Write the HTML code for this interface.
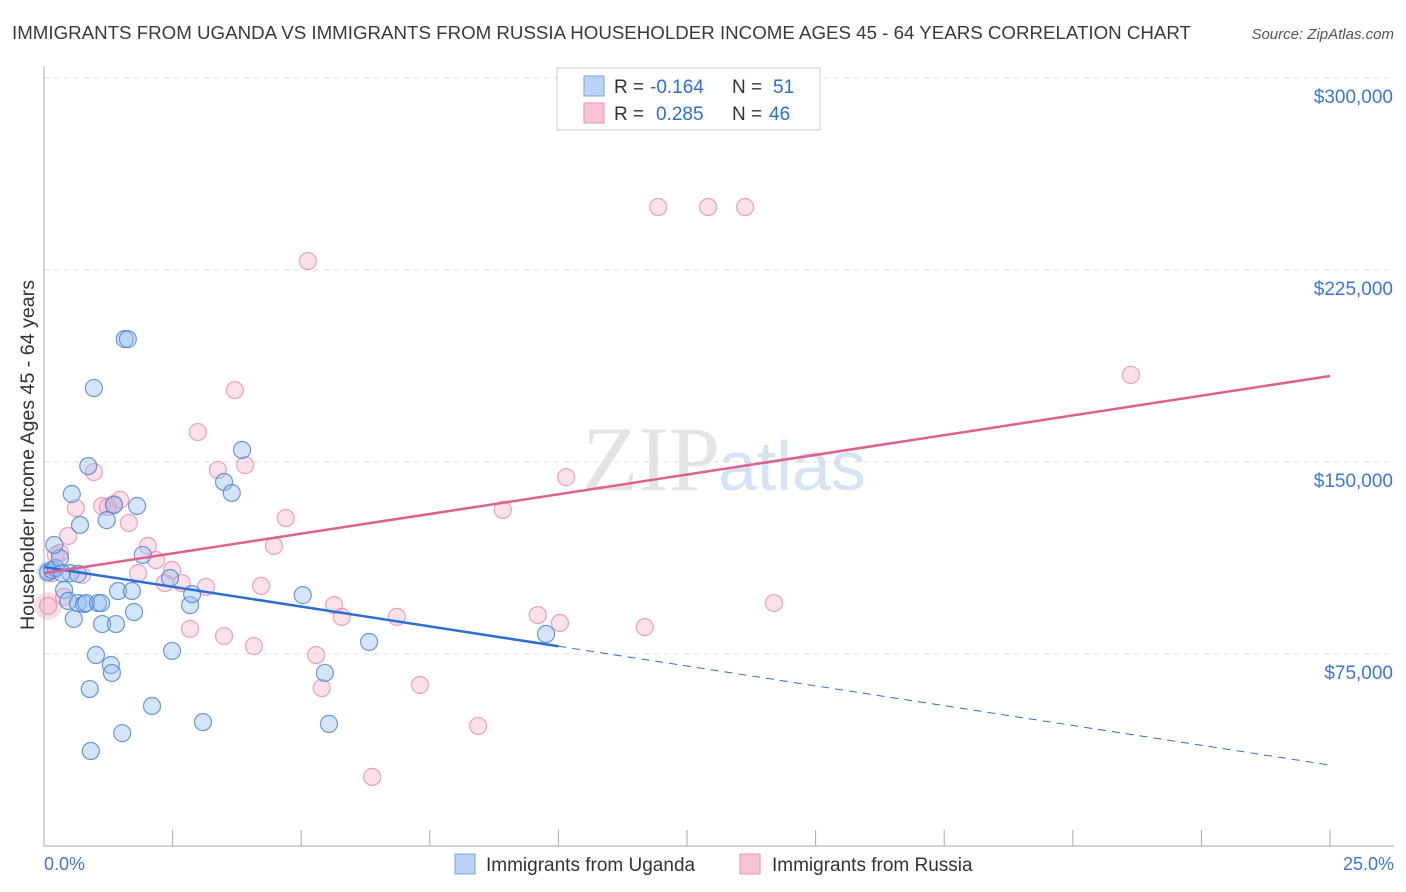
<!DOCTYPE html>
<html><head><meta charset="utf-8"><style>
body{margin:0;background:#fff;font-family:"Liberation Sans",sans-serif;}
#c{position:relative;width:1406px;height:892px;overflow:hidden}
</style></head><body><div id="c">
<svg id="s" width="1406" height="892" xmlns="http://www.w3.org/2000/svg">
<text x="12" y="39" font-size="18" fill="#3a3a3a" textLength="1179" lengthAdjust="spacingAndGlyphs">IMMIGRANTS FROM UGANDA VS IMMIGRANTS FROM RUSSIA HOUSEHOLDER INCOME AGES 45 - 64 YEARS CORRELATION CHART</text>
<text x="1394" y="39" font-size="15" font-style="italic" fill="#555" text-anchor="end">Source: ZipAtlas.com</text>
<text x="720" y="490" font-size="92" fill="#e4e4e4" text-anchor="end" font-family="Liberation Serif">ZIP</text>
<text x="718" y="490" font-size="70" fill="#d6e3f3">atlas</text>
<text transform="translate(34,455) rotate(-90)" font-size="19" fill="#333" text-anchor="middle" textLength="350" lengthAdjust="spacingAndGlyphs">Householder Income Ages 45 - 64 years</text>
<g id="grid"></g><g id="pts"></g><g id="lines"></g>
<rect x="557" y="68" width="263" height="62" fill="#fff" stroke="#ccc"/>
<rect x="584" y="76" width="20" height="20" fill="#b8d3f5" stroke="#7aa6e0"/>
<rect x="584" y="103" width="20" height="20" fill="#f9c4d4" stroke="#e895b0"/>
<g font-size="19">
<text x="614" y="93" fill="#333">R =</text><text x="650" y="93" fill="#2a6fd6">-0.164</text>
<text x="732" y="93" fill="#333">N =</text><text x="773" y="93" fill="#2a6fd6">51</text></g>
<g font-size="19">
<text x="614" y="120" fill="#333">R =</text><text x="656" y="120" fill="#2a6fd6">0.285</text>
<text x="732" y="120" fill="#333">N =</text><text x="769" y="120" fill="#2a6fd6">46</text></g>
<text x="44" y="870" font-size="18" fill="#3b78d4">0.0%</text>
<text x="1394" y="870" font-size="18" fill="#3b78d4" text-anchor="end">25.0%</text>
<rect x="455" y="854" width="20" height="20" fill="#b8d3f5" stroke="#7aa6e0"/>
<text x="486" y="871" font-size="19" fill="#333">Immigrants from Uganda</text>
<rect x="740" y="854" width="20" height="20" fill="#f9c4d4" stroke="#e895b0"/>
<text x="772" y="871" font-size="19" fill="#333">Immigrants from Russia</text>
</svg></div>
<script>
const yTicks=[75,150,225,300];
const yTickLabels=["$75,000","$150,000","$225,000","$300,000"];
const ugandaX=[0.08,0.16,0.23,0.31,0.39,0.47,0.51,0.54,0.58,0.66,0.70,0.78,0.82,0.86,0.89,0.91,0.97,1.01,1.05,1.11,1.13,1.22,1.30,1.32,1.36,1.40,1.44,1.52,1.57,1.63,1.71,1.75,1.81,1.92,2.10,2.45,2.49,2.84,2.88,3.09,3.50,3.65,3.85,5.03,5.46,5.54,6.32,9.76,0.35,0.66,0.20];
const ugandaY=[107.0,107.8,108.6,112.5,100.0,95.7,106.6,137.5,88.7,94.9,125.4,94.5,94.9,148.4,61.3,37.1,178.9,74.6,94.9,94.9,86.7,127.3,70.7,67.6,133.2,86.7,99.6,44.1,198.0,198.0,99.6,91.4,132.8,113.7,54.7,104.7,76.2,94.1,98.4,48.4,142.2,137.9,154.7,98.0,67.6,47.7,79.7,82.8,106.6,106.3,117.6];
const russiaX=[0.08,0.16,0.23,0.31,0.39,0.47,0.62,0.74,0.97,1.13,1.24,1.36,1.48,1.65,1.83,2.02,2.18,2.35,2.49,2.68,2.84,2.99,3.15,3.38,3.50,3.71,3.91,4.08,4.22,4.47,4.70,5.13,5.29,5.40,5.64,5.79,6.86,7.31,8.44,8.92,9.60,10.03,10.15,11.68,11.94,12.91,13.63,14.19,21.13,6.38];
const russiaY=[93.8,106.6,113.7,114.5,97.3,121.1,132.0,105.9,146.1,132.8,132.4,133.6,135.2,126.2,106.6,117.2,111.7,102.7,107.8,102.7,84.8,161.7,101.2,146.9,82.0,178.1,148.8,78.1,101.6,117.2,128.1,228.5,74.6,61.7,94.1,89.5,89.5,62.9,46.9,131.3,90.2,87.1,144.1,85.5,249.6,249.6,249.6,94.9,184.0,27.0];
const ugandaTrend=[109.0,31.6]; // values at x=0 and x=25
const russiaTrend=[106.6,183.6];
const ugandaSolidEnd=10;
const NS="http://www.w3.org/2000/svg";
const X=v=>44+v*51.44, Y=v=>846-v*2.56;
function mk(t,a,p){const e=document.createElementNS(NS,t);for(const k in a)e.setAttribute(k,a[k]);p.appendChild(e);return e;}
const grid=document.getElementById('grid');
yTicks.forEach((t,i)=>{
 const l=mk('line',{x1:44,x2:1394,y1:Y(t),y2:Y(t),stroke:'#ddd','stroke-dasharray':'5,5'},grid);
 
 
 const tx=mk('text',{x:1393,y:Y(t)+25,'font-size':19,fill:'#3b78d4','text-anchor':'end'},grid);
 tx.textContent=yTickLabels[i];
 
 
});
const ax=mk('line',{x1:44,x2:44,y1:66,y2:846,stroke:'#aaa'},grid);


const bx=mk('line',{x1:44,x2:1394,y1:846,y2:846,stroke:'#aaa'},grid);


for(let i=1;i<=10;i++){const t=mk('line',{x1:X(i*2.5),x2:X(i*2.5),y1:830,y2:846,stroke:'#aaa'},grid);
 
 }
const pts=document.getElementById('pts');
mk('circle',{cx:X(0.08),cy:Y(93.8),r:14,fill:'rgba(240,150,180,0.3)',stroke:'none'},pts);
mk('circle',{cx:X(0.08),cy:Y(107),r:11,fill:'rgba(110,160,230,0.3)',stroke:'none'},pts);
russiaX.forEach((x,i)=>{const c=mk('circle',{cx:X(x),cy:Y(russiaY[i]),r:8.5,fill:'rgba(244,170,195,0.35)',stroke:'rgba(232,140,170,0.8)','stroke-width':1.2},pts);
 
 });
ugandaX.forEach((x,i)=>{const c=mk('circle',{cx:X(x),cy:Y(ugandaY[i]),r:8.5,fill:'rgba(150,190,240,0.4)',stroke:'rgba(80,135,215,0.85)','stroke-width':1.2},pts);
 
 });
const L=document.getElementById('lines');
const uAt=x=>ugandaTrend[0]+(ugandaTrend[1]-ugandaTrend[0])*x/25;
let a=mk('line',{x1:X(0),y1:Y(uAt(0)),x2:X(ugandaSolidEnd),y2:Y(uAt(ugandaSolidEnd)),stroke:'#2a6fd6','stroke-width':2.5},L);


a=mk('line',{x1:X(ugandaSolidEnd),y1:Y(uAt(ugandaSolidEnd)),x2:X(24.95),y2:Y(uAt(24.95)),stroke:'#2a6fd6','stroke-width':1,'stroke-dasharray':'8,6'},L);


a=mk('line',{x1:X(0),y1:Y(russiaTrend[0]),x2:X(25),y2:Y(russiaTrend[1]),stroke:'#e0608c','stroke-width':2.5},L);


</script></body></html>
